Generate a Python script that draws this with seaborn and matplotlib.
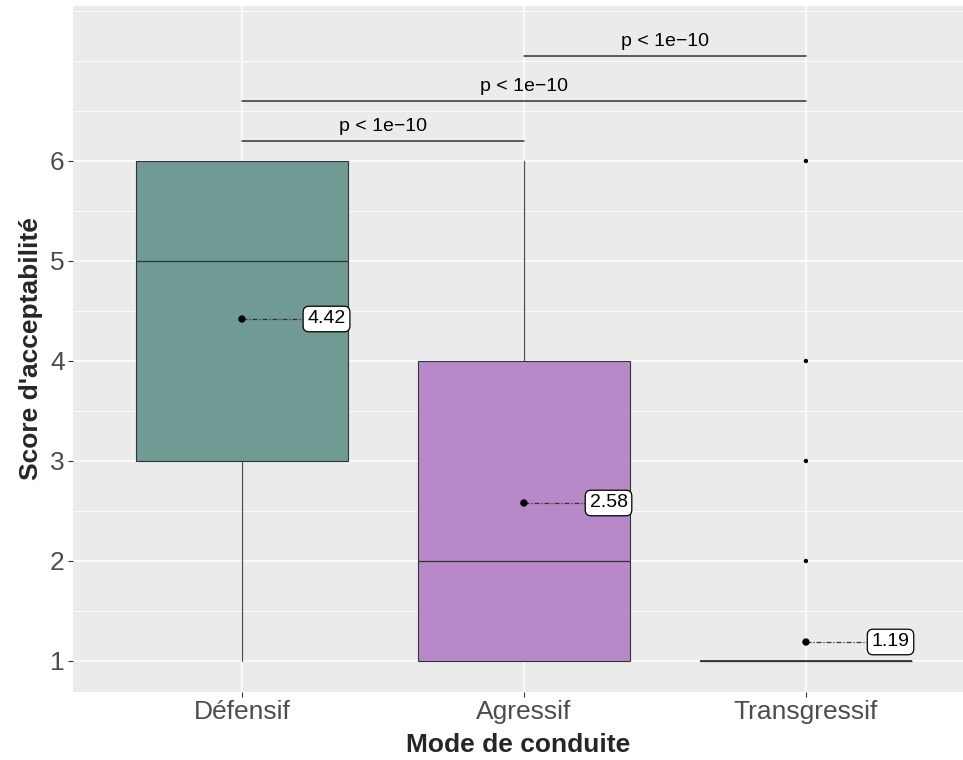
import matplotlib
matplotlib.use("Agg")
import matplotlib.pyplot as plt
from matplotlib.ticker import MultipleLocator
import seaborn as sns
import pandas as pd

# Summary statistics of the acceptability score for each driving mode
modes = ["Défensif", "Agressif", "Transgressif"]
q1 = [3, 1, 1]
medians = [5, 2, 1]
q3 = [6, 4, 1]
whisk_lo = [1, 1, 1]
whisk_hi = [6, 6, 1]
outliers = [[], [], [2, 3, 4, 6]]
means = [4.42, 2.58, 1.19]
fills = ["#6F9B94", "#B789C8", "#E0C36A"]

# Pairwise comparisons (group indices), bracket heights and p-value labels
comparisons = [(0, 1), (0, 2), (1, 2)]
bracket_y = [6.2, 6.6, 7.05]
p_labels = ["p < 1e\u221210", "p < 1e\u221210", "p < 1e\u221210"]

sns.set_theme(style="darkgrid", rc={
    "axes.facecolor": "#EBEBEB",
    "grid.color": "white",
    "figure.facecolor": "white",
})
plt.rcParams["font.family"] = ["Liberation Sans", "DejaVu Sans"]

W, H = 963, 760
fig = plt.figure(figsize=(W / 100, H / 100), dpi=100)
ax = fig.add_axes([73 / W, (H - 692) / H, (W - 73) / W, (692 - 6) / H])

stats = []
for i, m in enumerate(modes):
    stats.append(dict(label=m, med=medians[i], q1=q1[i], q3=q3[i],
                      whislo=whisk_lo[i], whishi=whisk_hi[i],
                      fliers=outliers[i], mean=means[i]))

positions = list(range(len(modes)))
bp = ax.bxp(stats, positions=positions, widths=0.75, patch_artist=True,
            showfliers=False, showcaps=False, manage_ticks=False,
            boxprops=dict(edgecolor="#333333", linewidth=0.8),
            medianprops=dict(color="#333333", linewidth=0.9),
            whiskerprops=dict(color="#4D4D4D", linewidth=0.9))
for patch, c in zip(bp["boxes"], fills):
    patch.set_facecolor(c)
for i, pos in enumerate(positions):
    if q1[i] == q3[i]:
        bp["boxes"][i].set_linewidth(1.3)

# Outlying observations
out_df = pd.DataFrame([(positions[i], v) for i in range(len(modes)) for v in outliers[i]],
                      columns=["pos", "score"])
sns.scatterplot(data=out_df, x="pos", y="score", ax=ax, color="black", s=10,
                edgecolor="none", zorder=4)

# Group means with their value labels
mean_df = pd.DataFrame({"pos": positions, "mean": means})
sns.scatterplot(data=mean_df, x="pos", y="mean", ax=ax, color="black", s=28,
                edgecolor="none", zorder=5)
for p, m in zip(positions, means):
    ax.plot([p, p + 0.3], [m, m], color="#333333", lw=0.9,
            linestyle=(0, (4, 1.5, 1, 1.5)), zorder=4)
    ax.text(p + 0.3, m, f"{m:.2f}", ha="center", va="center", fontsize=14,
            color="black", zorder=6,
            bbox=dict(boxstyle="round,pad=0.22,rounding_size=0.3", fc="white",
                      ec="black", lw=0.9))

# Significance brackets
for (a, b), y, lab in zip(comparisons, bracket_y, p_labels):
    ax.plot([positions[a], positions[b]], [y, y], color="#333333", lw=1.1, zorder=3)
    ax.text((positions[a] + positions[b]) / 2, y + 0.06, lab, ha="center",
            va="bottom", fontsize=14, color="black")

ax.set_xlim(-0.599, 2.557)
ax.set_ylim(0.69, 7.55)
ax.set_xticks(positions)
ax.set_xticklabels(modes)
ax.set_yticks([1, 2, 3, 4, 5, 6])
ax.yaxis.set_minor_locator(MultipleLocator(0.5))
ax.grid(which="major", color="white", lw=1.2)
ax.grid(which="minor", axis="y", color="white", lw=0.6)
ax.tick_params(which="major", length=3.5, width=0.8, color="#333333",
               labelcolor="#4D4D4D", labelsize=19, pad=2.5,
               bottom=True, left=True)
ax.tick_params(which="minor", length=0)
for s in ax.spines.values():
    s.set_visible(False)

ax.set_xlabel("Mode de conduite", fontsize=19, fontweight="bold", labelpad=6)
ax.set_ylabel("Score d'acceptabilité", fontsize=19, fontweight="bold", labelpad=5)

fig.savefig("out.png", dpi=100)
